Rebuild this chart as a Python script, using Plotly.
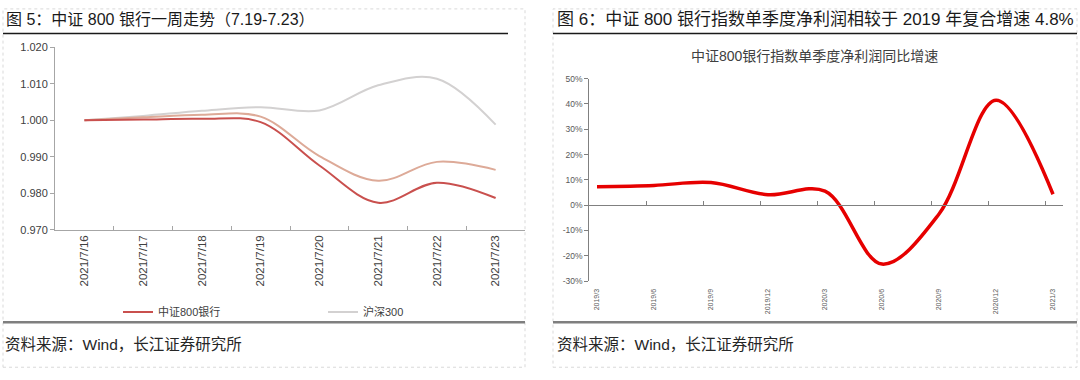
import plotly.graph_objects as go

# ---------------- data ----------------
dates = ["2021/7/16", "2021/7/17", "2021/7/18", "2021/7/19",
         "2021/7/20", "2021/7/21", "2021/7/22", "2021/7/23"]
bank800 = [1.000, 1.0002, 1.0004, 0.9995, 0.9876, 0.9774, 0.9829, 0.9787]
index800 = [1.000, 1.0008, 1.0015, 1.0010, 0.9902, 0.9834, 0.9886, 0.9864]
hs300 = [1.000, 1.0012, 1.0026, 1.0036, 1.0027, 1.0096, 1.0114, 0.9988]

quarters = ["2019/3", "2019/6", "2019/9", "2019/12", "2020/3",
            "2020/6", "2020/9", "2020/12", "2021/3"]
growth = [7.3, 7.8, 8.9, 4.1, 5.5, -23.3, -3.5, 41.5, 4.3]

left_yticks = [0.970, 0.980, 0.990, 1.000, 1.010, 1.020]
right_yticks = [-30, -20, -10, 0, 10, 20, 30, 40, 50]
right_yticktext = [f"{v}%" for v in right_yticks]

title_left = "图 5：中证 800 银行一周走势（7.19-7.23）"
title_right = "图 6：中证 800 银行指数单季度净利润相较于 2019 年复合增速 4.8%"
inner_title = "中证800银行指数单季度净利润同比增速"
source = "资料来源：Wind，长江证券研究所"

# ---------------- helpers ----------------
W, H = 1080, 380
def px(x):
    return x / W
def py(y):
    return 1 - y / H

FONT = "Liberation Sans, Arial, Noto Sans CJK SC, sans-serif"

fig = go.Figure()

# left chart
fig.add_trace(go.Scatter(x=dates, y=hs300, name="沪深300", mode="lines",
                         line=dict(color="#D3D1D1", width=2, shape="spline"),
                         xaxis="x", yaxis="y", legendrank=2))
fig.add_trace(go.Scatter(x=dates, y=index800, name="中证800", mode="lines",
                         line=dict(color="#DDAA98", width=2, shape="spline"),
                         xaxis="x", yaxis="y", showlegend=False))
fig.add_trace(go.Scatter(x=dates, y=bank800, name="中证800银行", mode="lines",
                         line=dict(color="#C9504E", width=2, shape="spline"),
                         xaxis="x", yaxis="y", legendrank=1))

# right chart
fig.add_trace(go.Scatter(x=list(range(len(quarters))), y=growth, name="同比增速",
                         mode="lines",
                         line=dict(color="#E60000", width=3.5, shape="spline"),
                         xaxis="x2", yaxis="y2", showlegend=False))

# zero position of right chart in paper coords
r_top, r_bot = 75, 284
r_zero = r_bot - (0 - right_yticks[0]) / (right_yticks[-1] - right_yticks[0]) * (r_bot - r_top)

fig.update_layout(
    width=W, height=H,
    margin=dict(l=0, r=0, t=0, b=0),
    paper_bgcolor="white", plot_bgcolor="white",
    font=dict(family=FONT, color="#404040"),
    showlegend=True,
    legend=dict(orientation="h", x=px(118), y=py(316), xanchor="left", yanchor="middle",
                font=dict(size=11, color="#404040"), bgcolor="rgba(0,0,0,0)",
                entrywidth=160, itemwidth=30, traceorder="normal"),
    xaxis=dict(domain=[px(55), px(525)], anchor="y", type="category",
               range=[-0.5, 7.5], tickson="boundaries", ticks="inside", ticklen=4,
               tickcolor="#A6A6A6", tickangle=-90, showline=True, linecolor="#A6A6A6",
               linewidth=1, showgrid=False, zeroline=False,
               tickfont=dict(size=11.5, color="#404040")),
    yaxis=dict(domain=[py(231), py(42.7)], anchor="x", range=[0.970, 1.020],
               tickvals=left_yticks, tickformat=".3f", ticks="outside", ticklen=4,
               tickcolor="#A6A6A6", showline=True, linecolor="#A6A6A6", linewidth=1,
               showgrid=False, zeroline=False, tickfont=dict(size=11, color="#404040")),
    xaxis2=dict(domain=[px(589.3), px(1063)], anchor="free", position=py(r_zero),
                range=[-0.135, 8.175], tickvals=list(range(len(quarters))),
                ticktext=quarters, ticks="", tickangle=-90, showline=True,
                linecolor="#808080", linewidth=1, showgrid=False, zeroline=False,
                ticklabelstandoff=80, tickfont=dict(size=7, color="#595959"),
                minor=dict(tickvals=[k + 0.87 for k in range(len(quarters) - 1)],
                           ticks="inside", ticklen=4, tickcolor="#808080", showgrid=False)),
    yaxis2=dict(domain=[py(r_bot), py(r_top)], anchor="x2",
                range=[right_yticks[0], right_yticks[-1]], tickvals=right_yticks,
                ticktext=right_yticktext, ticks="outside", ticklen=4, tickcolor="#808080",
                showline=True, linecolor="#808080", linewidth=1, showgrid=False,
                zeroline=False, tickfont=dict(size=8.5, color="#595959")),
)

# titles and texts
fig.add_annotation(text=title_left, x=px(4), y=py(14), xref="paper", yref="paper",
                   xanchor="left", yanchor="middle", showarrow=False,
                   font=dict(size=16, color="#1A1A1A"))
fig.add_annotation(text=title_right, x=px(555), y=py(14), xref="paper", yref="paper",
                   xanchor="left", yanchor="middle", showarrow=False,
                   font=dict(size=17, color="#1A1A1A"))
fig.add_annotation(text=inner_title, x=px(814), y=py(52), xref="paper", yref="paper",
                   xanchor="center", yanchor="middle", showarrow=False,
                   font=dict(size=14, color="#404040"))
fig.add_annotation(text=source, x=px(3), y=py(350), xref="paper", yref="paper",
                   xanchor="left", yanchor="middle", showarrow=False,
                   font=dict(size=15.5, color="#262626"))
fig.add_annotation(text=source, x=px(555), y=py(350), xref="paper", yref="paper",
                   xanchor="left", yanchor="middle", showarrow=False,
                   font=dict(size=15.5, color="#262626"))

# frame decorations
shapes = []
for x0, x1 in [(3, 525), (553, 1077)]:
    shapes.append(dict(type="rect", xref="paper", yref="paper",
                       x0=px(x0), x1=px(x1), y0=py(373), y1=py(3),
                       line=dict(color="#D9D9D9", width=1, dash="dot")))
shapes.append(dict(type="line", xref="paper", yref="paper", x0=px(3), x1=px(508),
                   y0=py(28.5), y1=py(28.5), line=dict(color="#1A1A1A", width=1.5)))
shapes.append(dict(type="line", xref="paper", yref="paper", x0=px(553), x1=px(1077),
                   y0=py(28.5), y1=py(28.5), line=dict(color="#1A1A1A", width=1.5)))
shapes.append(dict(type="line", xref="paper", yref="paper", x0=px(3), x1=px(525),
                   y0=py(326.5), y1=py(326.5), line=dict(color="#7F7F7F", width=2.5)))
shapes.append(dict(type="line", xref="paper", yref="paper", x0=px(553), x1=px(1077),
                   y0=py(326.5), y1=py(326.5), line=dict(color="#7F7F7F", width=2.5)))
fig.update_layout(shapes=shapes)

fig.write_html("out.html", config={"displayModeBar": False},
               post_script="document.body.style.margin='0';document.body.style.overflow='hidden';")
